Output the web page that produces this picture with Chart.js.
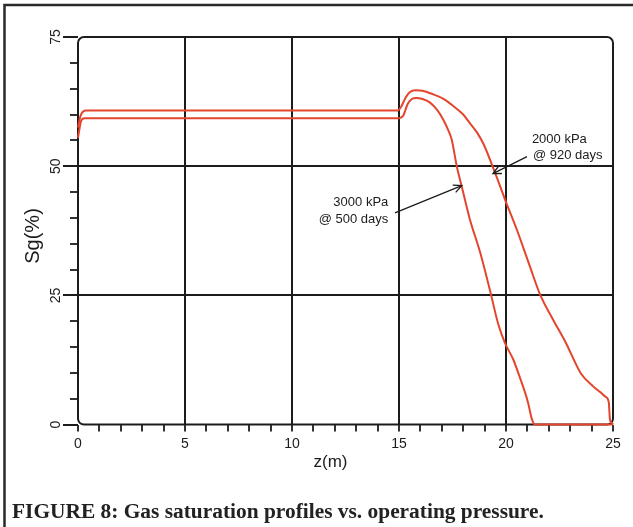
<!DOCTYPE html>
<html>
<head>
<meta charset="utf-8">
<script src="https://cdn.jsdelivr.net/npm/chart.js@4.4.1/dist/chart.umd.min.js"></script>
<style>
  body { margin: 0; background: #fff; }
  #wrap { width: 633px; height: 527px; }
</style>
</head>
<body>
<div id="wrap"><canvas id="sgChart" width="633" height="527"></canvas></div>
<script>
// gas saturation profile, 2000 kPa run after 920 days
const z2000 = [0, 0.1, 0.2, 0.35, 5, 10, 14.95, 15.1, 15.3, 15.5, 15.75, 16.1, 16.6, 17.1, 17.55, 18.0, 18.3,
  18.65, 18.95, 19.5, 19.95, 20.5, 21.1, 21.6, 22.2, 22.8, 23.5, 24.1, 24.4, 24.65, 24.8, 24.86, 24.95, 25];
const sg2000 = [57.5, 59.5, 60.4, 60.8, 60.8, 60.8, 60.8, 61.5, 63.2, 64.3, 64.7, 64.6, 63.9, 63.0, 61.6, 60.0, 58.4,
  56.5, 54.3, 48.6, 43.6, 37.8, 30.8, 25.1, 20.3, 15.8, 9.9, 7.3, 6.3, 5.4, 4.4, 0.9, 0.3, 0];

// gas saturation profile, 3000 kPa run after 500 days
const z3000 = [0, 0.08, 0.15, 0.3, 5, 10, 15.0, 15.2, 15.4, 15.6, 15.8, 16.1, 16.45, 16.8, 17.07, 17.3, 17.46,
  17.7, 17.93, 18.3, 18.8, 19.25, 19.64, 19.95, 20.35, 20.58, 20.9, 21.04, 21.2, 21.35, 25];
const sg3000 = [55.5, 57.5, 58.8, 59.3, 59.3, 59.3, 59.3, 59.8, 62.0, 63.0, 63.2, 63.0, 62.3, 60.8, 59.0, 57.0, 55.2,
  50.0, 46.1, 39.9, 33.2, 26.0, 19.4, 15.8, 12.5, 9.9, 6.1, 4.1, 1.2, 0, 0];

const xTickLabels = ['0', '5', '10', '15', '20', '25'];
const yTickLabels = ['0', '25', '50', '75'];
const note2000 = ['2000 kPa', '@ 920 days'];
const note3000 = ['3000 kPa', '@ 500 days'];

const RED = '#e4452d';
const INK = '#1c1c1c';

function toPoints(xs, ys) {
  return xs.map((x, i) => ({x: x, y: ys[i]}));
}

function arrow(ctx, x1, y1, x2, y2) {
  const ang = Math.atan2(y2 - y1, x2 - x1);
  const len = 9;
  ctx.beginPath();
  ctx.moveTo(x1, y1);
  ctx.lineTo(x2, y2);
  ctx.moveTo(x2 - len * Math.cos(ang - 0.45), y2 - len * Math.sin(ang - 0.45));
  ctx.lineTo(x2, y2);
  ctx.lineTo(x2 - len * Math.cos(ang + 0.45), y2 - len * Math.sin(ang + 0.45));
  ctx.stroke();
}

const decor = {
  id: 'decor',
  beforeDraw(chart) {
    const ctx = chart.ctx;
    ctx.save();
    ctx.fillStyle = '#fff';
    ctx.fillRect(0, 0, chart.width, chart.height);
    ctx.restore();
  },
  beforeDatasetsDraw(chart) {
    const {ctx, chartArea: a, scales: {y}} = chart;
    ctx.save();
    ctx.strokeStyle = INK;
    ctx.lineWidth = 2;
    ctx.beginPath();
    ctx.roundRect(a.left, a.top, a.right - a.left, a.bottom - a.top, 6);
    ctx.stroke();
    // labelled Sg ticks stick out further
    y.ticks.forEach(t => {
      if (yTickLabels.includes(String(t.value))) {
        const py = Math.round(y.getPixelForValue(t.value));
        ctx.beginPath();
        ctx.moveTo(a.left - 15, py);
        ctx.lineTo(a.left, py);
        ctx.stroke();
      }
    });
    ctx.restore();
  },
  afterDraw(chart) {
    const {ctx, chartArea: a, scales: {x, y}} = chart;
    ctx.save();
    ctx.fillStyle = INK;
    ctx.strokeStyle = INK;

    // axis titles
    ctx.font = '17px "Liberation Sans", Arial, sans-serif';
    ctx.textAlign = 'center';
    ctx.textBaseline = 'middle';
    ctx.fillText('z(m)', x.getPixelForValue(11.8), a.bottom + 38);
    ctx.save();
    ctx.translate(33, y.getPixelForValue(36.5));
    ctx.rotate(-Math.PI / 2);
    ctx.font = '20px "Liberation Sans", Arial, sans-serif';
    ctx.fillText('Sg(%)', 0, 0);
    ctx.restore();

    // callouts
    ctx.font = '13px "Liberation Sans", Arial, sans-serif';
    ctx.textAlign = 'left';
    let px = x.getPixelForValue(21.21), py = y.getPixelForValue(55.2);
    ctx.fillText(note2000[0], px, py);
    ctx.fillText(note2000[1], px + 1, py + 16);
    ctx.textAlign = 'right';
    px = x.getPixelForValue(14.5);
    py = y.getPixelForValue(42.9);
    ctx.fillText(note3000[0], px, py);
    ctx.fillText(note3000[1], px, py + 16.5);

    ctx.lineWidth = 1.3;
    arrow(ctx, x.getPixelForValue(20.98), y.getPixelForValue(51.85),
      x.getPixelForValue(19.39), y.getPixelForValue(48.57));
    arrow(ctx, x.getPixelForValue(14.81), y.getPixelForValue(40.95),
      x.getPixelForValue(17.93), y.getPixelForValue(46.24));

    // caption
    ctx.textAlign = 'left';
    ctx.textBaseline = 'alphabetic';
    ctx.fillStyle = '#222';
    ctx.font = 'bold 21.4px "Liberation Serif", "Times New Roman", serif';
    ctx.fillText('FIGURE 8: Gas saturation profiles vs. operating pressure.', 12, 518);

    // page border
    ctx.strokeStyle = '#2a2a2a';
    ctx.lineWidth = 2.5;
    ctx.strokeRect(4.5, 5, 800, 700);
    ctx.restore();
  }
};

const tickFont = {family: '"Liberation Sans", Arial, sans-serif', size: 14};

new Chart(document.getElementById('sgChart'), {
  type: 'scatter',
  data: {
    datasets: [
      {label: '2000 kPa @ 920 days', data: toPoints(z2000, sg2000)},
      {label: '3000 kPa @ 500 days', data: toPoints(z3000, sg3000)}
    ].map(d => Object.assign(d, {
      showLine: true,
      borderColor: RED,
      borderWidth: 2,
      pointRadius: 0,
      cubicInterpolationMode: 'monotone',
      clip: 4
    }))
  },
  options: {
    responsive: false,
    animation: false,
    layout: {padding: {top: 37, right: 20, left: 0, bottom: 0}},
    plugins: {legend: {display: false}, tooltip: {enabled: false}},
    scales: {
      x: {
        type: 'linear',
        min: 0,
        max: 25,
        afterFit: s => { s.height = 102.4; },
        border: {display: false},
        grid: {
          color: c => ['5', '10', '15', '20'].includes(String(c.tick && c.tick.value)) ? INK : 'rgba(0,0,0,0)',
          lineWidth: 2,
          tickColor: INK,
          tickWidth: 1.8,
          tickLength: 7
        },
        ticks: {
          stepSize: 1,
          autoSkip: false,
          maxRotation: 0,
          padding: 4,
          color: INK,
          font: tickFont,
          callback: v => xTickLabels.includes(String(v)) ? String(v) : ''
        }
      },
      y: {
        type: 'linear',
        min: 0,
        max: 75,
        afterFit: s => { s.width = 78; },
        border: {display: false},
        grid: {
          color: c => ['25', '50'].includes(String(c.tick && c.tick.value)) ? INK : 'rgba(0,0,0,0)',
          lineWidth: 2,
          tickColor: INK,
          tickWidth: 1.8,
          tickLength: 8
        },
        ticks: {
          stepSize: 5,
          autoSkip: false,
          minRotation: 90,
          maxRotation: 90,
          crossAlign: 'center',
          padding: 6,
          color: INK,
          font: tickFont,
          callback: v => yTickLabels.includes(String(v)) ? String(v) : ''
        }
      }
    }
  },
  plugins: [decor]
});
</script>
</body>
</html>
